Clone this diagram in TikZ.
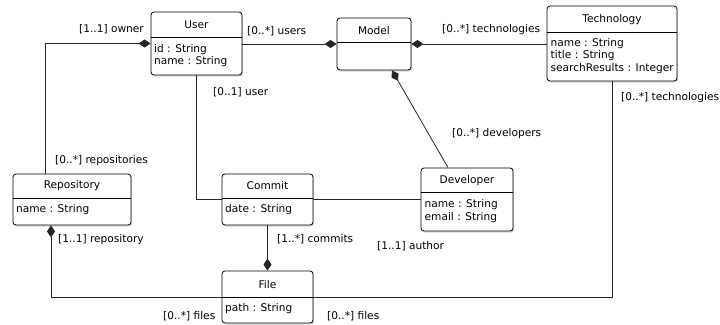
\documentclass[tikz,border=0pt]{standalone}
\usepackage{fontspec}
\setmainfont{DejaVu Sans}
\usetikzlibrary{arrows.meta,shadows}

\tikzset{
  cls/.style={draw=black, line width=0.8pt, rounded corners=3pt, fill=white,
    inner sep=0pt,
    drop shadow={shadow xshift=1.2pt, shadow yshift=-1.5pt, opacity=0.3}},
  sepline/.style={draw=black, line width=0.8pt},
  hdr/.style={inner sep=0pt, anchor=center},
  attr/.style={inner sep=0pt, anchor=west},
  lbl/.style={inner sep=0pt, anchor=west},
  link/.style={draw=black!85, line width=0.8pt},
  comp/.style={link, {Diamond[width=8pt,length=12pt]}-},
}

\begin{document}
\begin{tikzpicture}[x=1pt, y=-1pt, font=\fontsize{10.6}{12}\selectfont]
\useasboundingbox (0,0) rectangle (720,324);

% ---------- classes ----------
\node[cls, minimum width=91pt, minimum height=63pt] (user) at (196.5,43.5) {};
\draw[sepline] (user.west |- 0,37) -- (user.east |- 0,37);
\node[hdr] (user-h) at (196.5,25) {User};
\node[attr] (user-a1) at (154,49.5) {id : String};
\node[attr] (user-a2) at (154,62) {name : String};

\node[cls, minimum width=74pt, minimum height=52pt] (model) at (374,44) {};
\draw[sepline] (model.west |- 0,42) -- (model.east |- 0,42);
\node[hdr] (model-h) at (374,30.5) {Model};

\node[cls, minimum width=130pt, minimum height=75pt] (technology) at (612,43.5) {};
\draw[sepline] (technology.west |- 0,32) -- (technology.east |- 0,32);
\node[hdr] (technology-h) at (612,20) {Technology};
\node[attr] (technology-a1) at (550.5,43.5) {name : String};
\node[attr] (technology-a2) at (550.5,56) {title : String};
\node[attr] (technology-a3) at (550.5,69) {searchResults : Integer};

\node[cls, minimum width=118pt, minimum height=51pt] (repository) at (72,199.5) {};
\draw[sepline] (repository.west |- 0,198) -- (repository.east |- 0,198);
\node[hdr] (repository-h) at (72,186) {Repository};
\node[attr] (repository-a1) at (16,210) {name : String};

\node[cls, minimum width=91pt, minimum height=51pt] (commit) at (267.5,199.5) {};
\draw[sepline] (commit.west |- 0,198) -- (commit.east |- 0,198);
\node[hdr] (commit-h) at (267.5,186) {Commit};
\node[attr] (commit-a1) at (225,210) {date : String};

\node[cls, minimum width=92pt, minimum height=63pt] (developer) at (467,199.5) {};
\draw[sepline] (developer.west |- 0,192) -- (developer.east |- 0,192);
\node[hdr] (developer-h) at (467,181) {Developer};
\node[attr] (developer-a1) at (424.5,205) {name : String};
\node[attr] (developer-a2) at (424.5,217.5) {email : String};

\node[cls, minimum width=91pt, minimum height=52pt] (file) at (267.5,297) {};
\draw[sepline] (file.west |- 0,297) -- (file.east |- 0,297);
\node[hdr] (file-h) at (267.5,285) {File};
\node[attr] (file-a1) at (225,308.5) {path : String};

% ---------- associations ----------
\draw[comp] (user.west) -| (repository.north -| 45,0);
\draw[comp] (model.west) -- (model.west -| user.east);
\draw[comp] (model.east) -- (model.east -| technology.west);
\draw[comp] (model.south -| 392,0) -- (developer.north -| 448,0);
\draw[link] (user.south) |- (commit.west);
\draw[link] (commit.east) -- (commit.east -| developer.west);
\draw[comp] (file.north) -- (commit.south);
\draw[comp] (repository.south -| 51,0) |- (file.west);
\draw[link] (technology.south) |- (file.east);

% ---------- role labels ----------
\node[inner sep=0pt, anchor=east] (l-owner) at (144,29) {[1..1] owner};
\node[lbl] (l-users) at (247,31.5) {[0..*] users};
\node[lbl] (l-tech1) at (442,30) {[0..*] technologies};
\node[lbl] (l-user) at (213,92) {[0..1] user};
\node[lbl] (l-tech2) at (621,98) {[0..*] technologies};
\node[lbl] (l-devs) at (452,134) {[0..*] developers};
\node[lbl] (l-repos) at (55,161) {[0..*] repositories};
\node[lbl] (l-repo) at (58,239.5) {[1..1] repository};
\node[lbl] (l-commits) at (277,239.5) {[1..*] commits};
\node[lbl] (l-author) at (377,246) {[1..1] author};
\node[lbl] (l-files1) at (163,316) {[0..*] files};
\node[lbl] (l-files2) at (327,316) {[0..*] files};
\end{tikzpicture}
\end{document}
